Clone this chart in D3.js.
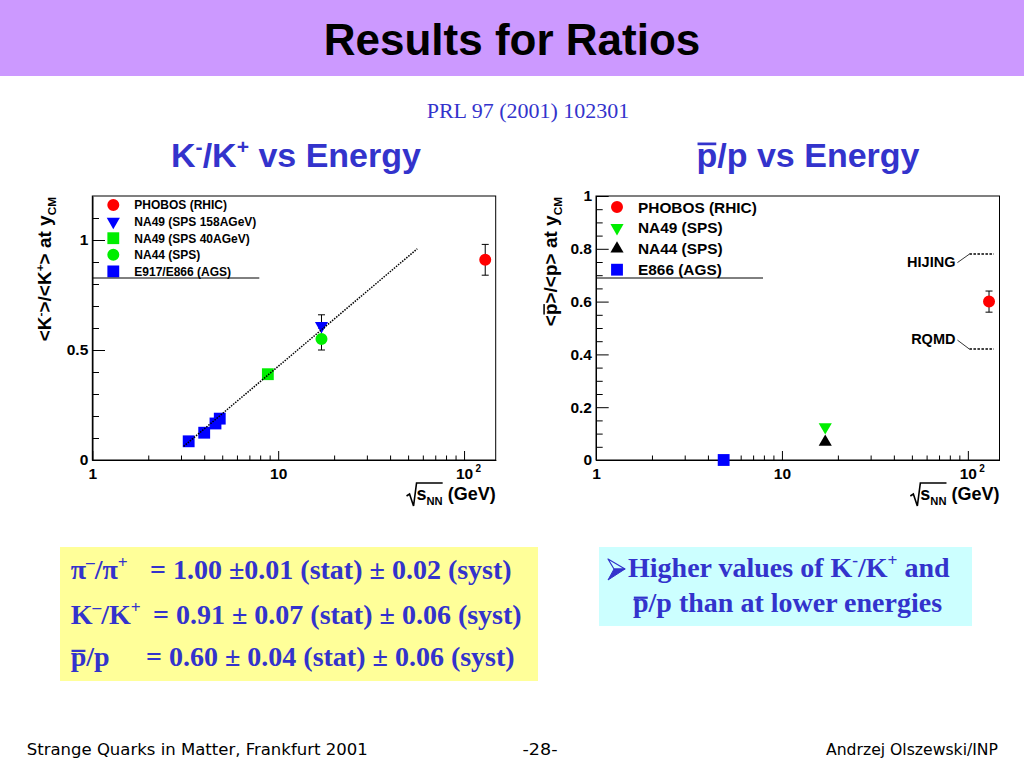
<!DOCTYPE html>
<html>
<head>
<meta charset="utf-8">
<script src="https://cdn.jsdelivr.net/npm/d3@7"></script>
<style>
body { margin: 0; background: #fff; }
</style>
</head>
<body>
<div id="chart"></div>
<script>
// K-/K+ panel
var kSeries = ["PHOBOS (RHIC)", "NA49 (SPS 158AGeV)", "NA49 (SPS 40AGeV)", "NA44 (SPS)", "E917/E866 (AGS)"];
var kEnergy = [[130], [17.1], [8.8], [17.1], [3.3, 4.0, 4.6, 4.85]];
var kRatio  = [[0.91], [0.61], [0.39], [0.55], [0.085, 0.124, 0.166, 0.188]];
var kError  = [[0.07], [0.05], [0], [0.05], [0, 0, 0, 0]];
var kFitEnergy = [3.1, 56];
var kFitRatio  = [0.062, 0.96];

// pbar/p panel
var pSeries = ["PHOBOS (RHIC)", "NA49 (SPS)", "NA44 (SPS)", "E866 (AGS)"];
var pEnergy = [[130], [17.1], [17.1], [4.86]];
var pRatio  = [[0.60], [0.125], [0.068], [0.0]];
var pError  = [[0.04], [0], [0], [0]];
var models = ["HIJING", "RQMD"];
var modelRatio = [0.78, 0.42];
var modelEnergy = [102, 138];

// axis ticks
var xMajor = [1, 10, 100];
var xMinor = [2, 3, 4, 5, 6, 7, 8, 9, 20, 30, 40, 50, 60, 70, 80, 90];
var kYMajor = [0, 0.5, 1];
var kYMinor = [0.1, 0.2, 0.3, 0.4, 0.6, 0.7, 0.8, 0.9, 1.1];
var pYMajor = [0, 0.2, 0.4, 0.6, 0.8, 1];
var pYMinor = [0.05, 0.1, 0.15, 0.25, 0.3, 0.35, 0.45, 0.5, 0.55, 0.65, 0.7, 0.75, 0.85, 0.9, 0.95];

var W = 1024, H = 768;
var SANS = "'Liberation Sans', Arial, Helvetica, sans-serif";
var SERIF = "'Liberation Serif', 'Times New Roman', serif";
var BLUE = "#3333cc";

var svg = d3.select("#chart").append("svg")
	.attr("width", W)
	.attr("height", H);

svg.append("rect").attr("width", W).attr("height", H).attr("fill", "#fff");

// header band
svg.append("rect").attr("width", W).attr("height", 76).attr("fill", "#cc99ff");
svg.append("text")
	.attr("x", 512).attr("y", 55)
	.attr("text-anchor", "middle")
	.attr("font-family", SANS).attr("font-weight", "bold").attr("font-size", 44)
	.text("Results for Ratios");

svg.append("text")
	.attr("x", 528).attr("y", 118)
	.attr("text-anchor", "middle")
	.attr("font-family", SERIF).attr("font-size", 22)
	.attr("fill", BLUE)
	.text("PRL 97 (2001) 102301");

// text with super/subscripts
function rich(t, parts, size) {
	var off = 0;
	parts.forEach(function(p) {
		var s = p[1] === "sup" ? -0.38 * size : p[1] === "sub" ? 0.25 * size : 0;
		t.append("tspan")
			.attr("dy", s - off)
			.attr("font-size", p[1] ? size * 0.62 : size)
			.text(p[0]);
		off = s;
	});
	return t;
}

// bar over one character
function overline(t, idx, baseY, frac, size, color, g) {
	var b = t.node().getExtentOfChar(idx);
	(g || svg).append("rect")
		.attr("x", b.x + size * 0.03)
		.attr("width", b.width - size * 0.06)
		.attr("y", baseY - frac * size)
		.attr("height", Math.max(1.5, size * 0.08))
		.attr("fill", color);
}

// panel titles
var t1 = svg.append("text")
	.attr("x", 296).attr("y", 167)
	.attr("text-anchor", "middle")
	.attr("font-family", SANS).attr("font-weight", "bold")
	.attr("fill", BLUE);
rich(t1, [["K"], ["-", "sup"], ["/K"], ["+", "sup"], [" vs Energy"]], 34);

var t2 = svg.append("text")
	.attr("x", 808).attr("y", 167)
	.attr("text-anchor", "middle")
	.attr("font-family", SANS).attr("font-weight", "bold").attr("font-size", 34)
	.attr("fill", BLUE)
	.text("p/p vs Energy");
overline(t2, 0, 167, 0.72, 34, BLUE);

function marker(g, shape, color, cx, cy) {
	var type = shape === "circle" ? d3.symbolCircle : shape === "square" ? d3.symbolSquare : d3.symbolTriangle;
	var size = shape === "circle" ? 113 : shape === "square" ? 140 : 75;
	g.append("path")
		.attr("d", d3.symbol().type(type).size(size)())
		.attr("transform", "translate(" + cx + "," + cy + ")" + (shape === "triDown" ? " rotate(180)" : ""))
		.attr("fill", color);
}

function panel(cfg) {
	var x = d3.scaleLog().domain([1, 148]).range([cfg.left, cfg.right]);
	var y = d3.scaleLinear().domain([0, cfg.yMax]).range([460, 196]);
	var g = svg.append("g");

	function styleAxis(a) {
		a.attr("font-family", SANS).attr("font-size", 15.5).attr("font-weight", "bold");
		a.selectAll("line,path").attr("stroke", "#000");
	}

	// x axis
	g.append("g").attr("transform", "translate(0,460)")
		.call(d3.axisBottom(x).tickValues(xMinor).tickSizeInner(-4.5).tickSizeOuter(0).tickFormat(function() { return ""; }))
		.call(styleAxis);
	var xa = g.append("g").attr("transform", "translate(0,460)")
		.call(d3.axisBottom(x).tickValues(xMajor).tickSizeInner(-9).tickSizeOuter(0).tickPadding(8)
			.tickFormat(function(d) { return d === 100 ? "10" : String(d); }))
		.call(styleAxis);
	xa.selectAll(".tick").filter(function(d) { return d === 100; })
		.append("text")
		.attr("x", 11).attr("y", 12)
		.attr("fill", "#000").attr("font-size", 10)
		.attr("text-anchor", "start")
		.text("2");

	// y axis
	g.append("g").attr("transform", "translate(" + cfg.left + ",0)")
		.call(d3.axisLeft(y).tickValues(cfg.yMinor).tickSizeInner(-6.7).tickSizeOuter(0).tickFormat(function() { return ""; }))
		.call(styleAxis);
	g.append("g").attr("transform", "translate(" + cfg.left + ",0)")
		.call(d3.axisLeft(y).tickValues(cfg.yMajor).tickSizeInner(-12.7).tickSizeOuter(0).tickPadding(4)
			.tickFormat(function(d) { return String(d); }))
		.call(styleAxis);

	// frame
	g.append("rect")
		.attr("x", cfg.left).attr("y", 196)
		.attr("width", cfg.right - cfg.left).attr("height", 264)
		.attr("fill", "none").attr("stroke", "#000");

	// x title with radical sign
	var xt = g.append("text")
		.attr("x", cfg.right).attr("y", 500)
		.attr("text-anchor", "end")
		.attr("font-family", SANS).attr("font-weight", "bold");
	rich(xt, [["s"], ["NN", "sub"], [" (GeV)"]], 18);
	var s0 = xt.node().getExtentOfChar(0);
	var nn = xt.node().getExtentOfChar(2);
	var sx = s0.x;
	g.append("path")
		.attr("d", "M" + (sx - 10) + ",496 L" + (sx - 7) + ",494 L" + (sx - 3) + ",506 L" + sx + ",483 H" + (nn.x + nn.width))
		.attr("fill", "none").attr("stroke", "#000").attr("stroke-width", 1.6);

	// y title, rotated
	var yg = g.append("g").attr("transform", "translate(" + cfg.yTitleX + ",197) rotate(-90)");
	var yt = yg.append("text")
		.attr("text-anchor", "end")
		.attr("font-family", SANS).attr("font-weight", "bold");
	rich(yt, cfg.yTitle, 19);
	if (cfg.yBar) overline(yt, 1, 0, 0.72, 19, "#000", yg);

	// legend
	var lg = g.append("g");
	cfg.series.forEach(function(name, i) {
		var ry = cfg.legY + i * cfg.legStep;
		marker(lg, cfg.shapes[i], cfg.colors[i], cfg.left + 21, ry);
		lg.append("text")
			.attr("x", cfg.left + cfg.legText).attr("y", ry + cfg.legFont * 0.36)
			.attr("font-family", SANS).attr("font-weight", "bold").attr("font-size", cfg.legFont)
			.text(name);
	});
	lg.append("line")
		.attr("x1", cfg.left).attr("x2", cfg.left + 167)
		.attr("y1", 278).attr("y2", 278)
		.attr("stroke", "#000");

	// points
	var pg = g.append("g");
	cfg.series.forEach(function(name, i) {
		cfg.energy[i].forEach(function(e, j) {
			var err = cfg.error[i][j];
			if (err > 0) {
				var cx = x(e);
				pg.append("line").attr("x1", cx).attr("x2", cx)
					.attr("y1", y(cfg.ratio[i][j] - err)).attr("y2", y(cfg.ratio[i][j] + err))
					.attr("stroke", "#000");
				[-1, 1].forEach(function(sg) {
					pg.append("line").attr("x1", cx - 3.5).attr("x2", cx + 3.5)
						.attr("y1", y(cfg.ratio[i][j] + sg * err)).attr("y2", y(cfg.ratio[i][j] + sg * err))
						.attr("stroke", "#000");
				});
			}
		});
	});
	cfg.series.forEach(function(name, i) {
		cfg.energy[i].forEach(function(e, j) {
			marker(pg, cfg.shapes[i], cfg.colors[i], x(e), y(cfg.ratio[i][j]));
		});
	});
	return { x: x, y: y, g: g };
}

var left = panel({
	left: 92.3, right: 495.7, yMax: 1.2,
	yMajor: kYMajor, yMinor: kYMinor,
	yTitleX: 51,
	yTitle: [["<K"], ["-", "sup"], [">/<K"], ["+", "sup"], ["> at y"], ["CM", "sub"]],
	series: kSeries, energy: kEnergy, ratio: kRatio, error: kError,
	shapes: ["circle", "triDown", "square", "circle", "square"],
	colors: ["#ff0000", "#0000ff", "#00ee00", "#00ee00", "#0000ff"],
	legY: 205, legStep: 16.6, legText: 42, legFont: 12
});

// fit line through K-/K+
left.g.append("path")
	.attr("d", d3.line()(kFitEnergy.map(function(e, i) { return [left.x(e), left.y(kFitRatio[i])]; })))
	.attr("fill", "none").attr("stroke", "#000")
	.attr("stroke-width", 1.5).attr("stroke-dasharray", "1.5,1.2");

var right = panel({
	left: 596, right: 999.5, yMax: 1,
	yMajor: pYMajor, yMinor: pYMinor,
	yTitleX: 557, yBar: true,
	yTitle: [["<p>/<p> at y"], ["CM", "sub"]],
	series: pSeries, energy: pEnergy, ratio: pRatio, error: pError,
	shapes: ["circle", "triDown", "triUp", "square"],
	colors: ["#ff0000", "#00ee00", "#000000", "#0000ff"],
	legY: 207, legStep: 20.9, legText: 42, legFont: 15.4
});

// model predictions
models.forEach(function(m, i) {
	var yv = right.y(modelRatio[i]);
	var x0 = right.x(modelEnergy[0]), x1 = right.x(modelEnergy[1]);
	right.g.append("line")
		.attr("x1", x0).attr("x2", x1).attr("y1", yv).attr("y2", yv)
		.attr("stroke", "#000").attr("stroke-width", 1.5).attr("stroke-dasharray", "2.5,1.5");
	var ly = i === 0 ? yv + 7 : yv - 10.5;
	right.g.append("line")
		.attr("x1", x0 - 12).attr("x2", x0).attr("y1", ly + 1.5).attr("y2", yv)
		.attr("stroke", "#000").attr("stroke-width", 0.8);
	right.g.append("text")
		.attr("x", x0 - 14).attr("y", ly + 5.5)
		.attr("text-anchor", "end")
		.attr("font-family", SANS).attr("font-weight", "bold").attr("font-size", 14.5)
		.text(m);
});

// result box
svg.append("rect").attr("x", 60).attr("y", 547).attr("width", 478).attr("height", 134).attr("fill", "#ffff99");
function boxText(x, yb, size) {
	return svg.append("text").attr("x", x).attr("y", yb)
		.attr("font-family", SERIF).attr("font-weight", "bold").attr("font-size", size)
		.attr("fill", BLUE);
}
rich(boxText(70.7, 579, 28), [["\u03c0"], ["\u2013", "sup"], ["/\u03c0"], ["+", "sup"]], 28);
boxText(150, 579, 28).text("= 1.00 \u00b10.01 (stat) \u00b1 0.02 (syst)");
rich(boxText(70.7, 624, 28), [["K"], ["\u2013", "sup"], ["/K"], ["+", "sup"]], 28);
boxText(153, 624, 28).text("= 0.91 \u00b1 0.07 (stat) \u00b1 0.06 (syst)");
var b3 = boxText(70.7, 666, 28).text("p/p");
overline(b3, 0, 666, 0.58, 28, BLUE);
boxText(146, 666, 28).text("= 0.60 \u00b1 0.04 (stat) \u00b1 0.06 (syst)");

// conclusion box
svg.append("rect").attr("x", 599).attr("y", 547).attr("width", 373).attr("height", 79).attr("fill", "#ccffff");
// 3D arrowhead bullet
svg.append("path")
	.attr("d", "M608,559 L625,569 L614,569 Z")
	.attr("fill", "#ccffff").attr("stroke", BLUE).attr("stroke-width", 1.2).attr("stroke-linejoin", "round");
svg.append("path")
	.attr("d", "M614,569 L625,569 L608,580 Z")
	.attr("fill", BLUE).attr("stroke", BLUE).attr("stroke-width", 1).attr("stroke-linejoin", "round");
rich(boxText(628, 577, 28), [["Higher values of K"], ["-", "sup"], ["/K"], ["+", "sup"], [" and"]], 28);
var c2 = boxText(633, 612, 28).text("p/p than at lower energies");
overline(c2, 0, 612, 0.55, 28, BLUE);

// footer
function foot(x, anchor, len, s) {
	svg.append("text").attr("x", x).attr("y", 755)
		.attr("text-anchor", anchor)
		.attr("font-family", "'DejaVu Sans', sans-serif").attr("font-size", 15)
		.attr("textLength", len).attr("lengthAdjust", "spacingAndGlyphs")
		.text(s);
}
foot(26.7, "start", 341, "Strange Quarks in Matter, Frankfurt 2001");
foot(540, "middle", 35, "-28-");
foot(998, "end", 172, "Andrzej Olszewski/INP");
</script>
</body>
</html>
